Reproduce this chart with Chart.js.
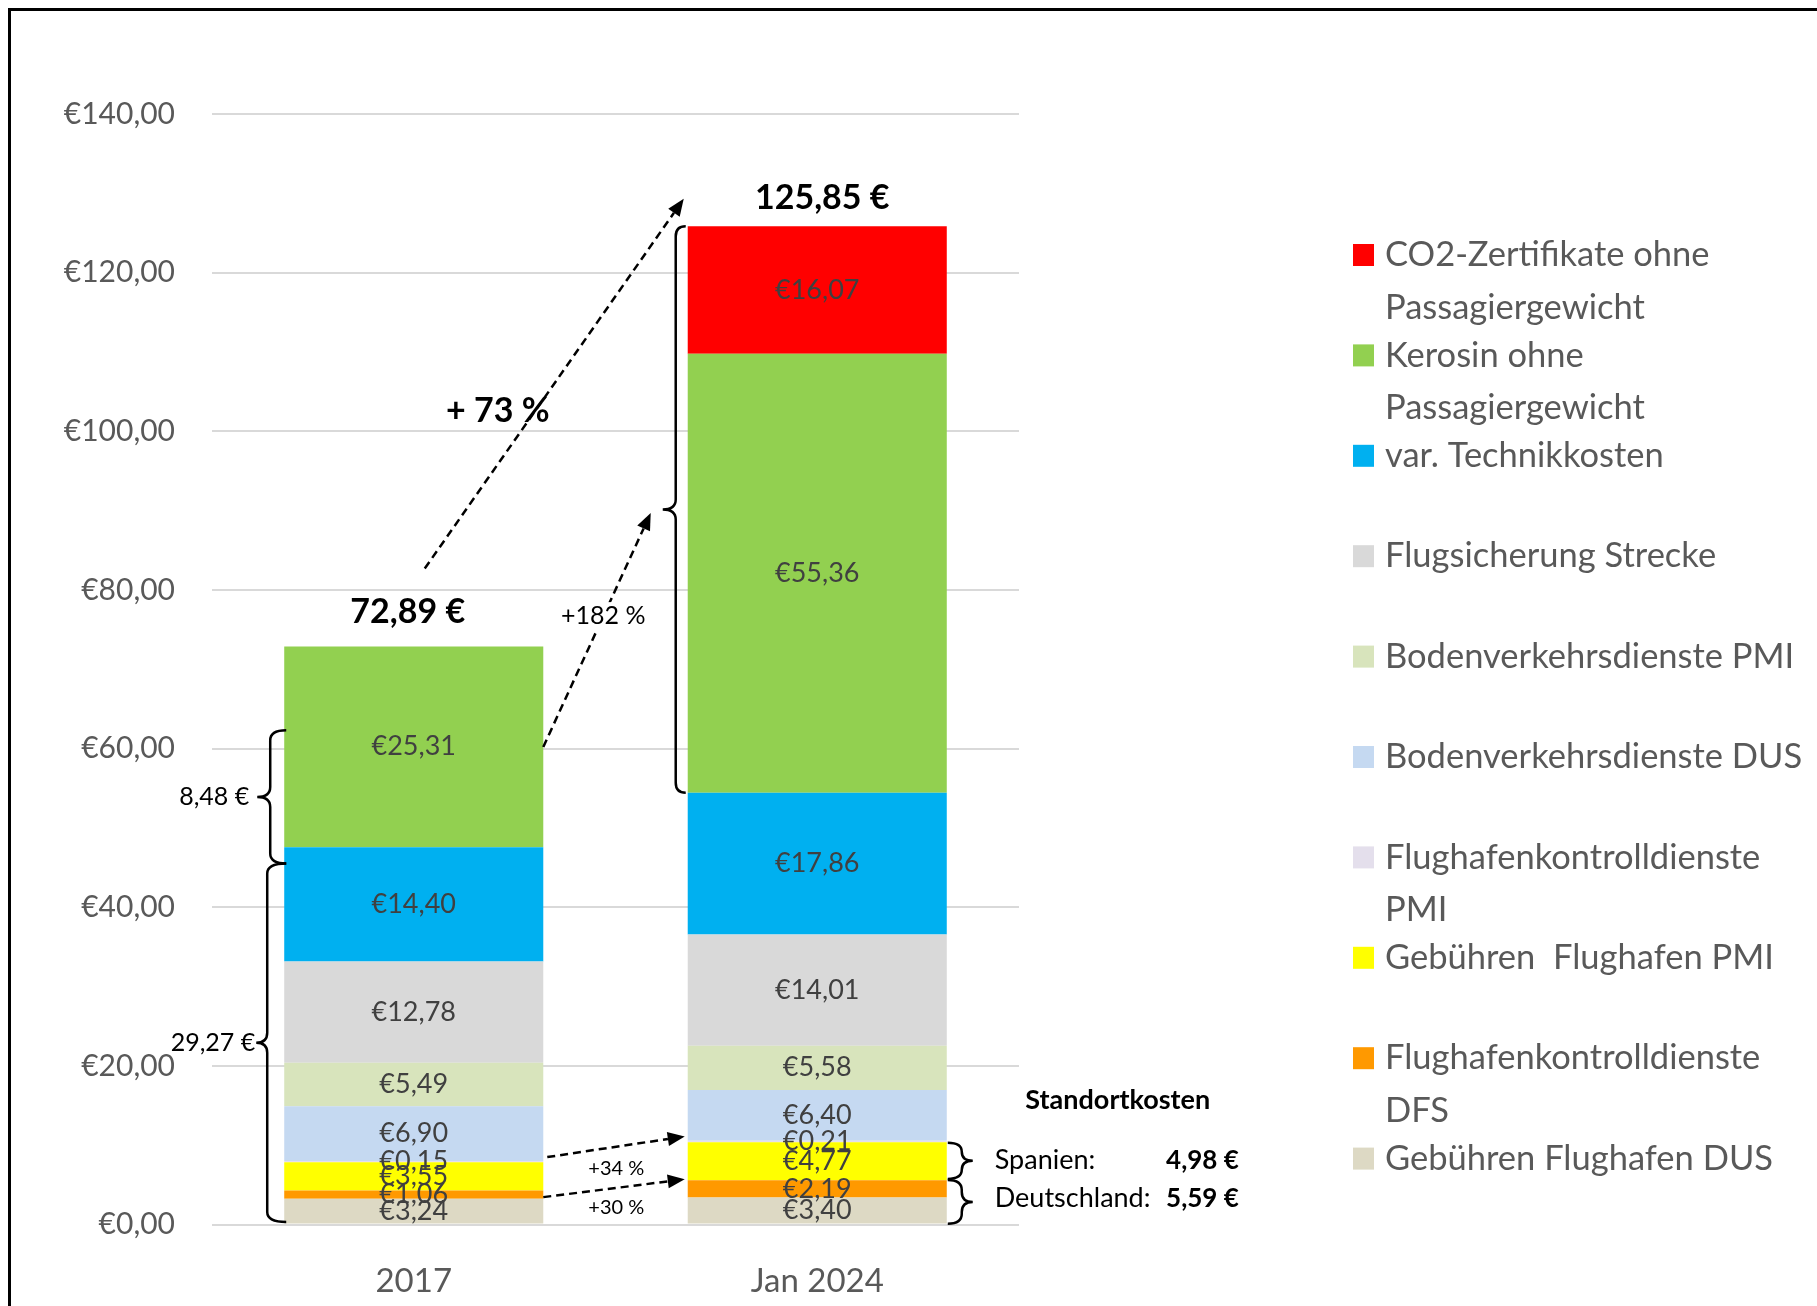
<!DOCTYPE html>
<html>
<head>
<meta charset="utf-8">
<script src="https://cdn.jsdelivr.net/npm/chart.js@4/dist/chart.umd.min.js"></script>
<style>
  html, body { margin: 0; padding: 0; background: #fff; }
  canvas { display: block; }
</style>
</head>
<body>
<canvas id="kosten" width="1817" height="1306"></canvas>
<script>
// categories and stacked series (bottom of the stack first)
const categories = ['2017', 'Jan 2024'];

const gebuehrenDUS     = [3.24, 3.40];
const kontrolleDFS     = [1.06, 2.19];
const gebuehrenPMI     = [3.55, 4.77];
const kontrollePMI     = [0.15, 0.21];
const bodenDUS         = [6.90, 6.40];
const bodenPMI         = [5.49, 5.58];
const flugsicherung    = [12.78, 14.01];
const technik          = [14.40, 17.86];
const kerosin          = [25.31, 55.36];
const co2              = [null, 16.07];

const seriesNames = [
  'Gebühren Flughafen DUS',
  'Flughafenkontrolldienste\nDFS',
  'Gebühren  Flughafen PMI',
  'Flughafenkontrolldienste\nPMI',
  'Bodenverkehrsdienste DUS',
  'Bodenverkehrsdienste PMI',
  'Flugsicherung Strecke',
  'var. Technikkosten',
  'Kerosin ohne\nPassagiergewicht',
  'CO2-Zertifikate ohne\nPassagiergewicht'
];
const seriesValues = [gebuehrenDUS, kontrolleDFS, gebuehrenPMI, kontrollePMI, bodenDUS,
                      bodenPMI, flugsicherung, technik, kerosin, co2];
const seriesColors = ['#DDD9C4', '#FF9900', '#FFFF00', '#E4DFEC', '#C5D9F1',
                      '#D8E4BC', '#D9D9D9', '#00B0F0', '#92D050', '#FF0000'];

const yTicks = [0, 20, 40, 60, 80, 100, 120, 140];
const totalLabels = ['72,89 €', '125,85 €'];
const bracketLabels = ['8,48 €', '29,27 €'];
const changeLabels = ['+ 73 %', '+182 %', '+34 %', '+30 %'];
const standortTitle = 'Standortkosten';
const standortRows = [['Spanien:', '4,98 €'], ['Deutschland:', '5,59 €']];

const FONT = 'Lato';
const euro = v => '€' + v.toFixed(2).replace('.', ',');

function brace(ctx, x, y1, y2, dir, tip, hook) {
  // dir -1: point to the left, hooks to the right
  const ym = (y1 + y2) / 2;
  const r = Math.min(10, (y2 - y1) / 4);
  ctx.beginPath();
  ctx.moveTo(x - dir * hook, y1);
  ctx.quadraticCurveTo(x, y1, x, y1 + r);
  ctx.lineTo(x, ym - r);
  ctx.quadraticCurveTo(x, ym, x + dir * tip, ym);
  ctx.quadraticCurveTo(x, ym, x, ym + r);
  ctx.lineTo(x, y2 - r);
  ctx.quadraticCurveTo(x, y2, x - dir * hook, y2);
  ctx.stroke();
}

function arrow(ctx, x1, y1, x2, y2) {
  const a = Math.atan2(y2 - y1, x2 - x1);
  const L = 17, W = 7;
  const bx = x2 - L * Math.cos(a), by = y2 - L * Math.sin(a);
  ctx.setLineDash([8, 5]);
  ctx.beginPath();
  ctx.moveTo(x1, y1);
  ctx.lineTo(bx, by);
  ctx.stroke();
  ctx.setLineDash([]);
  ctx.beginPath();
  ctx.moveTo(x2, y2);
  ctx.lineTo(bx + W * Math.sin(a), by - W * Math.cos(a));
  ctx.lineTo(bx - W * Math.sin(a), by + W * Math.cos(a));
  ctx.closePath();
  ctx.fill();
}

const frame = {
  id: 'frame',
  afterDraw(chart) {
    const ctx = chart.ctx;
    ctx.save();
    ctx.strokeStyle = '#000';
    ctx.lineWidth = 3;
    ctx.beginPath();
    ctx.moveTo(9.5, chart.height);
    ctx.lineTo(9.5, 9.5);
    ctx.lineTo(chart.width, 9.5);
    ctx.stroke();
    ctx.restore();
  }
};

const segmentLabels = {
  id: 'segmentLabels',
  afterDatasetsDraw(chart) {
    const ctx = chart.ctx;
    ctx.save();
    ctx.font = '27px ' + FONT;
    ctx.fillStyle = '#404040';
    ctx.textAlign = 'center';
    ctx.textBaseline = 'middle';
    chart.data.datasets.forEach((ds, i) => {
      chart.getDatasetMeta(i).data.forEach((bar, j) => {
        const v = ds.data[j];
        if (v == null) return;
        ctx.fillText(euro(v), bar.x, (bar.y + bar.base) / 2);
      });
    });
    ctx.restore();
  }
};

const annotations = {
  id: 'annotations',
  afterDraw(chart) {
    const ctx = chart.ctx;
    const y = v => chart.scales.y.getPixelForValue(v);
    const bars = chart.getDatasetMeta(0).data;
    const b0 = bars[0], b1 = bars[1];
    const l0 = b0.x - b0.width / 2, r0 = b0.x + b0.width / 2;
    const l1 = b1.x - b1.width / 2, r1 = b1.x + b1.width / 2;
    ctx.save();
    ctx.fillStyle = '#000';
    ctx.strokeStyle = '#000';
    ctx.textBaseline = 'middle';

    // totals above the bars
    ctx.textAlign = 'center';
    ctx.font = 'bold 34px ' + FONT;
    const sums = [0, 1].map(j => seriesValues.reduce((s, a) => s + (a[j] || 0), 0));
    ctx.fillText(totalLabels[0], b0.x - 6, y(sums[0]) - 34);
    ctx.fillText(totalLabels[1], b1.x + 5, y(sums[1]) - 28);

    // dashed arrows
    ctx.lineWidth = 2.5;
    arrow(ctx, b0.x + 11, y(82.7), l1 - 4, y(129.3));
    arrow(ctx, r0, y(60.2), l1 - 37, y(89.7));
    arrow(ctx, r0 + 4, y(8.5), l1 - 3, y(11.1));
    arrow(ctx, r0, y(3.45), l1 - 3, y(5.7));

    ctx.font = 'bold 34px ' + FONT;
    ctx.fillText(changeLabels[0], b0.x + 84, y(102.6));

    ctx.font = '25px ' + FONT;
    const w182 = ctx.measureText(changeLabels[1]).width;
    ctx.fillStyle = '#fff';
    ctx.fillRect(r0 + 60 - w182 / 2 - 3, y(76.7) - 14, w182 + 6, 28);
    ctx.fillStyle = '#000';
    ctx.fillText(changeLabels[1], r0 + 60, y(76.7));

    ctx.font = '20px ' + FONT;
    ctx.fillText(changeLabels[2], r0 + 73, y(7.1));
    ctx.fillText(changeLabels[3], r0 + 73, y(2.1));

    // braces
    ctx.lineWidth = 2.5;
    brace(ctx, l0 - 14, y(62.3), y(45.5), -1, 13, 16);
    brace(ctx, l0 - 17, y(45.5), y(0.3), -1, 11, 19);
    brace(ctx, l1 - 12, y(sums[1]), y(54.42), -1, 13, 10);
    brace(ctx, r1 + 15, y(10.3), y(5.75), 1, 11, 14);
    brace(ctx, r1 + 15, y(5.6), y(0.1), 1, 11, 14);

    ctx.font = '25px ' + FONT;
    ctx.textAlign = 'right';
    ctx.fillText(bracketLabels[0], l0 - 35, y(53.9));
    ctx.fillText(bracketLabels[1], l0 - 29, y(22.9));

    // Standortkosten block
    ctx.textAlign = 'center';
    ctx.font = 'bold 27px ' + FONT;
    ctx.fillText(standortTitle, r1 + 171, y(15.7));
    standortRows.forEach((row, k) => {
      const yy = y(k === 0 ? 8.1 : 3.25);
      ctx.textAlign = 'left';
      ctx.font = '27px ' + FONT;
      ctx.fillText(row[0], r1 + 48, yy);
      ctx.textAlign = 'right';
      ctx.font = 'bold 26px ' + FONT;
      ctx.fillText(row[1], r1 + 292, yy);
    });
    ctx.restore();
  }
};

const legendRight = {
  id: 'legendRight',
  afterDraw(chart) {
    const ctx = chart.ctx;
    const ds = chart.data.datasets;
    ctx.save();
    ctx.font = '34.5px ' + FONT;
    ctx.textAlign = 'left';
    ctx.textBaseline = 'middle';
    for (let k = 0; k < ds.length; k++) {
      const d = ds[ds.length - 1 - k];
      const yy = 255 + k * 100.4;
      ctx.fillStyle = d.backgroundColor;
      ctx.fillRect(1353, yy - 11, 21, 22);
      ctx.fillStyle = '#595959';
      d.label.split('\n').forEach((line, n) => {
        ctx.fillText(line, 1385, yy + n * 52.7);
      });
    }
    ctx.restore();
  }
};

const ctx = document.getElementById('kosten').getContext('2d');
const chart = new Chart(ctx, {
  type: 'bar',
  data: {
    labels: categories,
    datasets: seriesNames.map((name, i) => ({
      label: name,
      data: seriesValues[i],
      backgroundColor: seriesColors[i],
      borderWidth: 0,
      barPercentage: 0.642,
      categoryPercentage: 1
    }))
  },
  options: {
    responsive: false,
    animation: false,
    layout: { padding: { top: 114, right: 798, left: 0, bottom: 0 } },
    plugins: { legend: { display: false }, tooltip: { enabled: false } },
    scales: {
      x: {
        stacked: true,
        grid: { display: false },
        border: { display: false },
        ticks: { color: '#595959', font: { family: FONT, size: 33 }, padding: 29 },
        afterFit: s => { s.height = 81.5; }
      },
      y: {
        stacked: true,
        min: yTicks[0],
        max: yTicks[yTicks.length - 1],
        afterBuildTicks: s => { s.ticks = yTicks.map(v => ({ value: v })); },
        ticks: { color: '#595959', font: { family: FONT, size: 30 }, padding: 37, callback: v => euro(v) },
        grid: { color: '#d9d9d9', lineWidth: 2, drawTicks: false },
        border: { display: false },
        afterFit: s => { s.width = 212; }
      }
    }
  },
  plugins: [segmentLabels, annotations, legendRight, frame]
});
</script>
</body>
</html>
